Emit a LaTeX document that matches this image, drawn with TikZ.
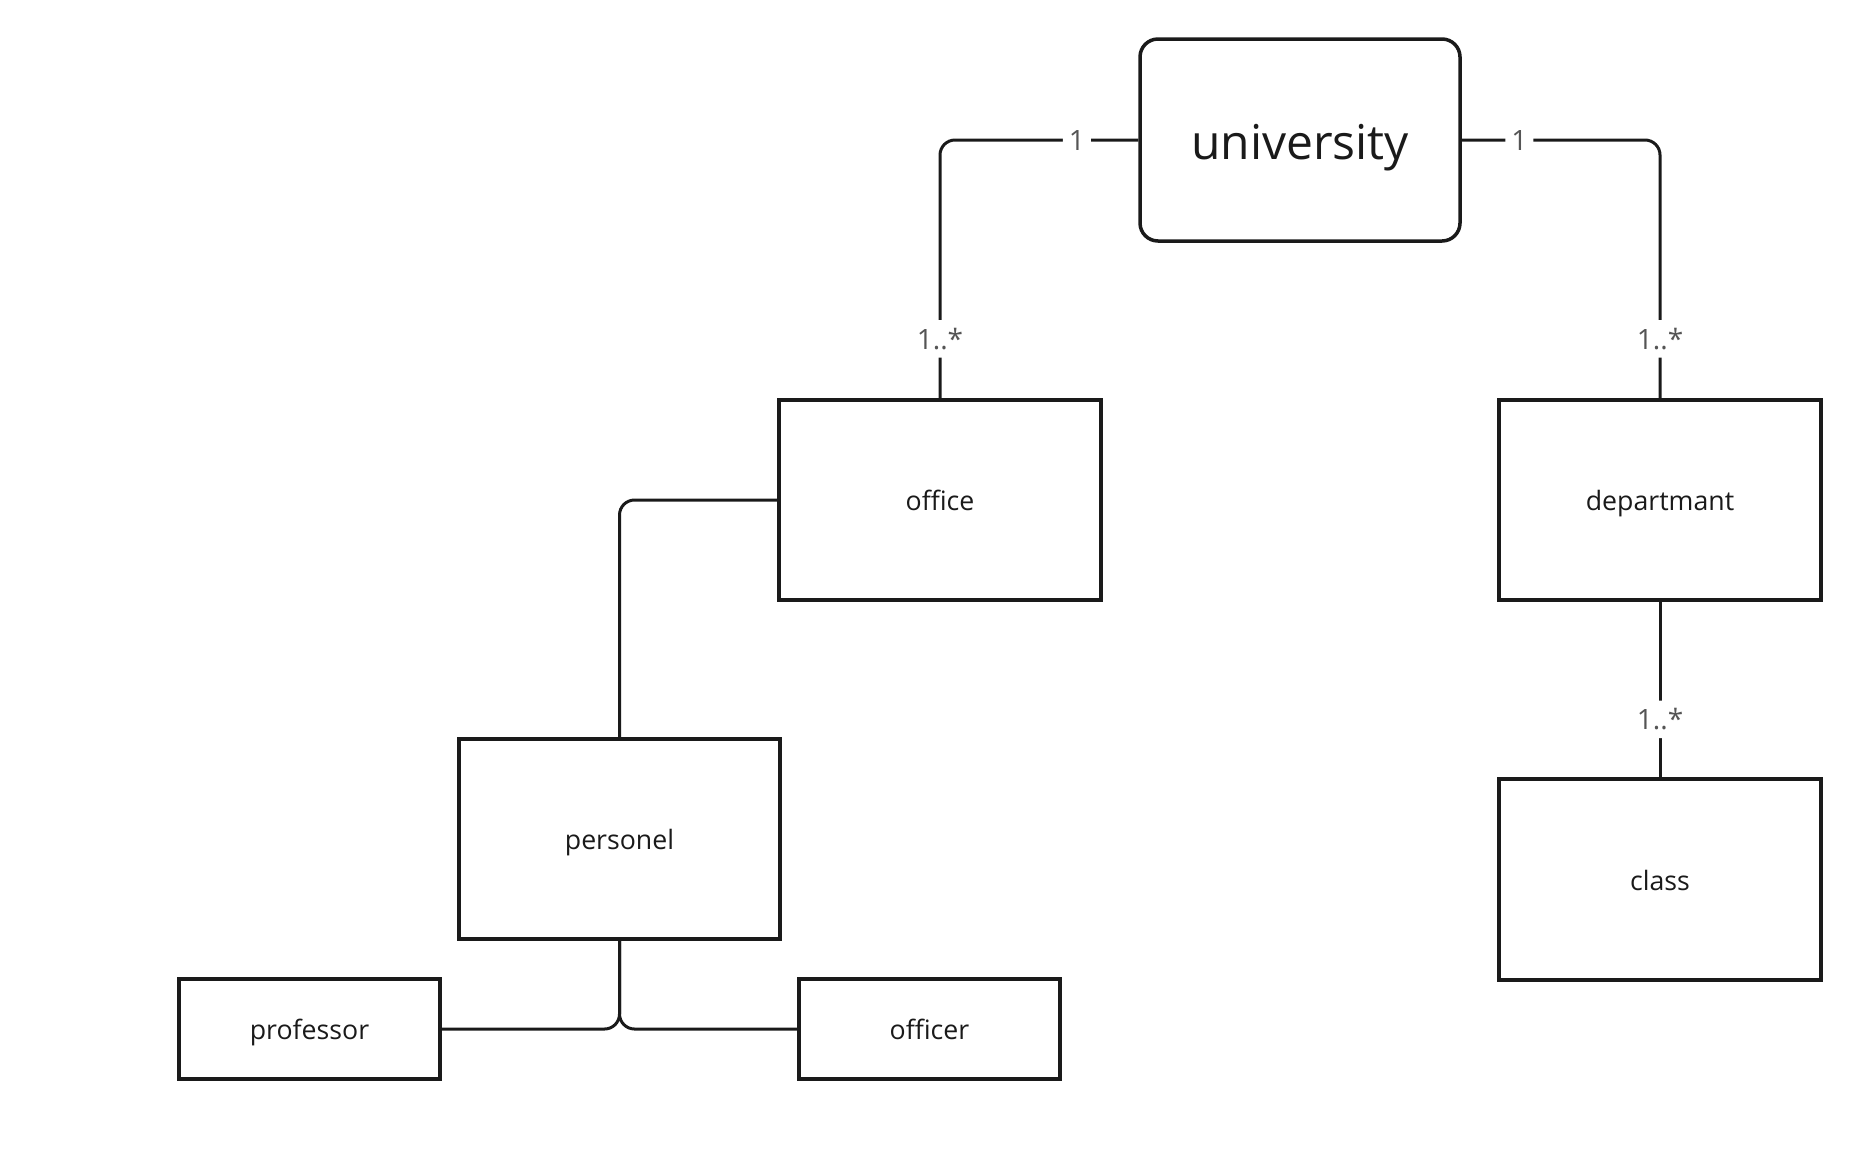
\documentclass[tikz,border=0pt]{standalone}
\usepackage{fontspec}
\setmainfont{Open Sans}
\definecolor{ink}{HTML}{1A1A1A}
\definecolor{lbl}{HTML}{555555}
\tikzset{
  box/.style={draw=ink, line width=3.5pt, rectangle, text=ink, font=\fontsize{26.7}{30}\selectfont, inner sep=0pt, text height=21.4pt, text depth=0pt},
  conn/.style={draw=ink, line width=3pt, rounded corners=15pt},
  mult/.style={fill=white, text=lbl, font=\fontsize{28}{32}\selectfont, inner xsep=6pt, inner ysep=8pt},
}
\begin{document}
\begin{tikzpicture}[x=1pt,y=-1pt]
\useasboundingbox (0,0) rectangle (1860,1171);
\node[box, rounded corners=18pt, minimum width=320pt, minimum height=202pt, font=\fontsize{48}{54}\selectfont, text height=38.4pt] (univ) at (1300,140) {university};
\node[box, minimum width=322pt, minimum height=200pt] (office) at (940,500) {office};
\node[box, minimum width=322pt, minimum height=200pt] (dept) at (1660,500) {departmant};
\node[box, minimum width=322pt, minimum height=201pt] (class) at (1660,879.5) {class};
\node[box, minimum width=321pt, minimum height=200pt] (pers) at (619.5,839) {personel};
\node[box, minimum width=261pt, minimum height=100pt] (prof) at (309.5,1029) {professor};
\node[box, minimum width=261pt, minimum height=100pt] (offr) at (929.5,1029) {officer};

\draw[conn] (univ.west) -| node[mult, pos=0.155] {1} node[mult, pos=0.885] {1..*} (office.north);
\draw[conn] (univ.east) -| node[mult, pos=0.145] {1} node[mult, pos=0.885] {1..*} (dept.north);
\draw[conn] (dept.south) -- node[mult, pos=0.67] {1..*} (class.north);
\draw[conn] (office.west) -| (pers.north);
\draw[conn] (pers.south) |- (prof.east);
\draw[conn] (pers.south) |- (offr.west);
\end{tikzpicture}
\end{document}
